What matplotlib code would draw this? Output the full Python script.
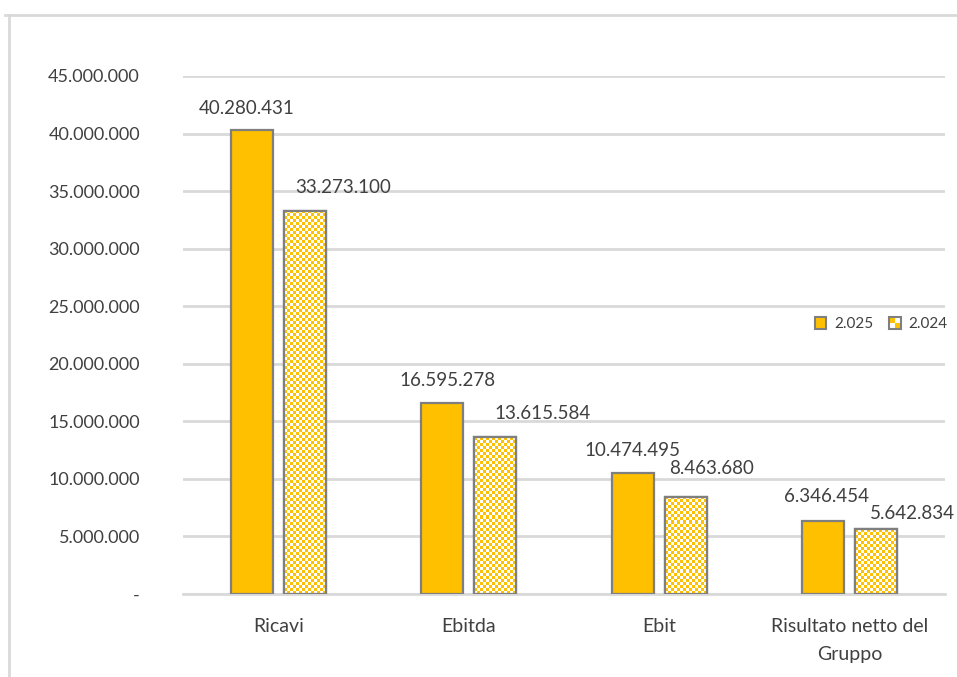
import numpy as np
import matplotlib
matplotlib.use("Agg")
import matplotlib.pyplot as plt
from matplotlib.patches import Rectangle
from matplotlib.legend_handler import HandlerBase
from matplotlib.lines import Line2D

categories = ["Ricavi", "Ebitda", "Ebit", "Risultato netto del\nGruppo"]
values_2025 = [40280431, 16595278, 10474495, 6346454]
values_2024 = [33273100, 13615584, 8463680, 5642834]
series_names = ["2.025", "2.024"]
yticks = [0, 5000000, 10000000, 15000000, 20000000, 25000000,
          30000000, 35000000, 40000000, 45000000]

YELLOW = "#FFC000"
EDGE = "#7F7F7F"
GRID = "#D9D9D9"
TEXT = "#404040"

# label shifts in pixels (Excel nudges the labels around)
DX_2025 = [-5, 5, 0, 3]
DY_2025 = [22, 22, 23, 24]
DX_2024 = [38, 47, 26, 36]
DY_2024 = [23, 24, 28, 16]
PT = 0.72  # points per pixel at dpi 100

plt.rcParams["font.family"] = ["Lato", "DejaVu Sans"]


def fmt(v):
    if v == 0:
        return "-"
    return f"{v:,.0f}".replace(",", ".")


class CheckerHandler(HandlerBase):
    def create_artists(self, legend, orig_handle, xdescent, ydescent,
                       width, height, fontsize, trans):
        s = min(width, height)
        x0 = -xdescent + (width - s) / 2
        y0 = -ydescent + (height - s) / 2
        arts = [Rectangle((x0, y0), s, s, facecolor="white", edgecolor="none", transform=trans)]
        h = s / 2
        for i in range(2):
            for j in range(2):
                if (i + j) % 2 == 1:
                    arts.append(Rectangle((x0 + i * h, y0 + j * h), h, h,
                                          facecolor=YELLOW, edgecolor="none", transform=trans))
        arts.append(Rectangle((x0, y0), s, s, facecolor="none", edgecolor=EDGE,
                              lw=1.5, transform=trans))
        return arts


class SquareHandler(HandlerBase):
    def create_artists(self, legend, orig_handle, xdescent, ydescent,
                       width, height, fontsize, trans):
        s = min(width, height)
        x0 = -xdescent + (width - s) / 2
        y0 = -ydescent + (height - s) / 2
        return [Rectangle((x0, y0), s, s, facecolor=YELLOW, edgecolor=EDGE,
                          lw=1.5, transform=trans)]


fig = plt.figure(figsize=(9.57, 6.77), dpi=100)
ax = fig.add_axes([183 / 957, 1 - 594 / 677, (945 - 183) / 957, (594 - 76) / 677])

x = np.arange(len(categories))
w = 0.22
off = 0.14
ax.set_xlim(-0.5, len(categories) - 0.5)
ax.set_ylim(0, 45000000)

bars25 = ax.bar(x - off, values_2025, w, color=YELLOW, edgecolor=EDGE, linewidth=1.6, zorder=3)
bars24 = ax.bar(x + off, values_2024, w, color="white", edgecolor=EDGE, linewidth=1.6, zorder=3)

# checkerboard fill for the 2024 bars
fig.canvas.draw()
px_per_x = ax.transData.transform((1, 0))[0] - ax.transData.transform((0, 0))[0]
px_per_y = ax.transData.transform((0, 1e6))[1] - ax.transData.transform((0, 0))[1]
cell = 3.0
for b in bars24:
    bx, by = b.get_x(), b.get_y()
    bw, bh = b.get_width(), b.get_height()
    nc = max(1, int(round(bw * px_per_x / cell)))
    nr = max(1, int(round(bh / 1e6 * px_per_y / cell)))
    ii, jj = np.indices((nr, nc))
    check = ((ii + jj) % 2 == 0)
    img = np.ones((nr, nc, 3))
    img[check] = matplotlib.colors.to_rgb(YELLOW)
    im = ax.imshow(img, extent=(bx, bx + bw, by, by + bh), aspect="auto",
                   interpolation="nearest", zorder=3.5, origin="upper")
    im.set_clip_path(b)
    ax.add_patch(Rectangle((bx, by), bw, bh, facecolor="none", edgecolor=EDGE,
                           linewidth=1.6, zorder=4))

ax.set_xlim(-0.5, len(categories) - 0.5)
ax.set_ylim(0, 45000000)

for i, v in enumerate(values_2025):
    ax.annotate(fmt(v), (x[i] - off, v), xytext=(DX_2025[i] * PT, DY_2025[i] * PT),
                textcoords="offset points", ha="center", va="center",
                fontsize=13.5, color=TEXT, zorder=5)
for i, v in enumerate(values_2024):
    ax.annotate(fmt(v), (x[i] + off, v), xytext=(DX_2024[i] * PT, DY_2024[i] * PT),
                textcoords="offset points", ha="center", va="center",
                fontsize=13.5, color=TEXT, zorder=5, annotation_clip=False)

ax.set_yticks(yticks)
ax.set_yticklabels([fmt(t) for t in yticks], fontsize=13, color=TEXT)
ax.set_xticks(x)
ax.set_xticklabels(categories, fontsize=14, color=TEXT, linespacing=1.8)
ax.tick_params(axis="y", length=0, pad=31)
ax.tick_params(axis="x", length=0, pad=17)

ax.grid(axis="y", color=GRID, linewidth=2, zorder=0)
ax.set_axisbelow(True)
for s in ["top", "right", "left"]:
    ax.spines[s].set_visible(False)
ax.spines["bottom"].set_color(GRID)
ax.spines["bottom"].set_linewidth(2)

h25 = Rectangle((0, 0), 1, 1)
h24 = Rectangle((0, 0), 1, 1)
fig.legend([h25, h24], series_names, loc="center",
           bbox_to_anchor=(881 / 957, 1 - 324 / 677), ncol=2, frameon=False,
           fontsize=11, handlelength=0.8, handleheight=0.8, handletextpad=0.5,
           columnspacing=1.0, labelcolor=TEXT,
           handler_map={h25: SquareHandler(), h24: CheckerHandler()})

# chart area border
fig.add_artist(Line2D([5 / 957, 1.0], [1 - 15 / 677, 1 - 15 / 677], color=GRID, lw=2,
                      transform=fig.transFigure))
fig.add_artist(Line2D([9 / 957, 9 / 957], [0, 1 - 15 / 677], color=GRID, lw=2,
                      transform=fig.transFigure))

fig.savefig("out.png", dpi=100, facecolor="white")
